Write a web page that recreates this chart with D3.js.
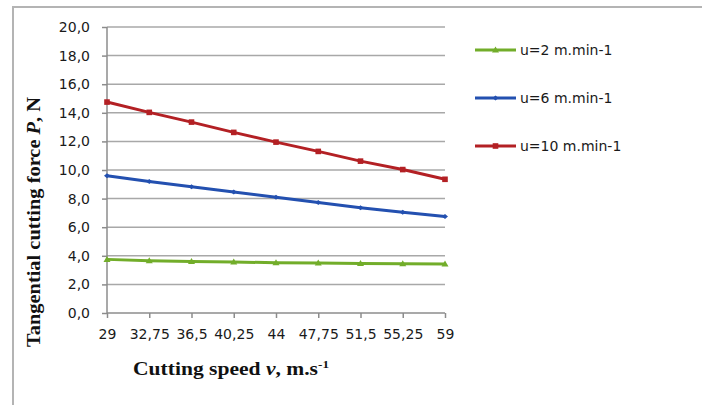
<!DOCTYPE html>
<html><head><meta charset="utf-8">
<script src="https://cdn.jsdelivr.net/npm/d3@7"></script>
<style>body{margin:0;background:#fff}svg{display:block}</style>
</head><body>
<svg id="c" width="702" height="405"></svg>
<script>
const categories = ["29","32,75","36,5","40,25","44","47,75","51,5","55,25","59"];
const u2  = [3.75,3.66,3.6,3.56,3.52,3.49,3.46,3.44,3.43];
const u6  = [9.6,9.2,8.83,8.46,8.09,7.73,7.36,7.05,6.75];
const u10 = [14.75,14.03,13.35,12.63,11.95,11.3,10.62,10.03,9.35];
const seriesNames = ["u=2 m.min-1","u=6 m.min-1","u=10 m.min-1"];
const yTicks = [0,2,4,6,8,10,12,14,16,18,20];

const series = [
  {name: seriesNames[0], values: u2, color: "#72ad2a", marker: "tri"},
  {name: seriesNames[1], values: u6, color: "#2350b0", marker: "dash"},
  {name: seriesNames[2], values: u10, color: "#b32024", marker: "sq"}
];

const svg = d3.select("#c");
svg.append("rect").attr("x",13).attr("y",7).attr("width",720).attr("height",420)
  .attr("fill","none").attr("stroke","#b4b4b4").attr("stroke-width",2);

const L=107, R=445, T=27, B=313;
const x = d3.scalePoint().domain(categories).range([L,R]);
const y = d3.scaleLinear().domain([0,20]).range([B,T]);
const fmt = d => d.toFixed(1).replace(".",",");

svg.append("g").selectAll("line").data(yTicks.filter(d=>d>0)).join("line")
  .attr("x1",L).attr("x2",R).attr("y1",d=>y(d)).attr("y2",d=>y(d))
  .attr("stroke","#a8a8a8").attr("stroke-width",1.5);

const yAxis = svg.append("g").attr("transform",`translate(${L},0)`)
  .call(d3.axisLeft(y).tickValues(yTicks).tickFormat(fmt).tickSize(5).tickPadding(12));
const xAxis = svg.append("g").attr("transform",`translate(0,${B})`)
  .call(d3.axisBottom(x).tickSize(5).tickPadding(11));
[yAxis,xAxis].forEach(a=>{
  a.select(".domain").attr("stroke","#8c8c8c").attr("stroke-width",1.5);
  a.selectAll(".tick line").attr("stroke","#8c8c8c").attr("stroke-width",1.5);
  a.selectAll("text").attr("font-family","DejaVu Sans").attr("font-size",14).attr("fill","#1a1a1a");
});
xAxis.select(".domain").attr("d",`M${L},0H${R}`);
yAxis.select(".domain").attr("d",`M0,${B}V${T}`);

const line = d3.line().x((d,i)=>x(categories[i])).y(d=>y(d));
function drawMarker(g, m, cx, cy, color){
  if(m==="sq") g.append("rect").attr("x",cx-2.8).attr("y",cy-2.8).attr("width",5.6).attr("height",5.6).attr("fill",color);
  else if(m==="tri") g.append("path").attr("d",`M${cx},${cy-3.5}L${cx+3.5},${cy+2.5}L${cx-3.5},${cy+2.5}Z`).attr("fill",color);
  else g.append("path").attr("d",`M${cx-3},${cy}L${cx},${cy-2.5}L${cx+3},${cy}L${cx},${cy+2.5}Z`).attr("fill",color);
}
series.forEach(s=>{
  const g = svg.append("g");
  g.append("path").datum(s.values).attr("d",line).attr("fill","none")
    .attr("stroke",s.color).attr("stroke-width",3);
  s.values.forEach((v,i)=>drawMarker(g,s.marker,x(categories[i]),y(v),s.color));
});

const legY = [50,98,146];
series.forEach((s,i)=>{
  const g = svg.append("g");
  g.append("line").attr("x1",475).attr("x2",516).attr("y1",legY[i]).attr("y2",legY[i])
    .attr("stroke",s.color).attr("stroke-width",3);
  drawMarker(g,s.marker,495.5,legY[i],s.color);
  g.append("text").attr("x",520).attr("y",legY[i]+5).attr("font-family","DejaVu Sans")
    .attr("font-size",14).attr("fill","#1a1a1a").text(s.name);
});

const xt = svg.append("text").attr("x",133).attr("y",375)
  .attr("font-family","Liberation Serif").attr("font-weight","bold").attr("font-size",18).attr("fill","#111")
  .attr("textLength",196).attr("lengthAdjust","spacingAndGlyphs");
xt.append("tspan").text("Cutting speed ");
xt.append("tspan").attr("font-style","italic").text("v");
xt.append("tspan").text(", m.s");
xt.append("tspan").attr("font-size",11).attr("dy",-7).text("-1");

const yt = svg.append("text").attr("transform","translate(40,347) rotate(-90)")
  .attr("font-family","Liberation Serif").attr("font-weight","bold").attr("font-size",18).attr("fill","#111")
  .attr("textLength",250).attr("lengthAdjust","spacingAndGlyphs");
yt.append("tspan").text("Tangential cutting force ");
yt.append("tspan").attr("font-style","italic").text("P");
yt.append("tspan").text(", N");
</script>
</body></html>
